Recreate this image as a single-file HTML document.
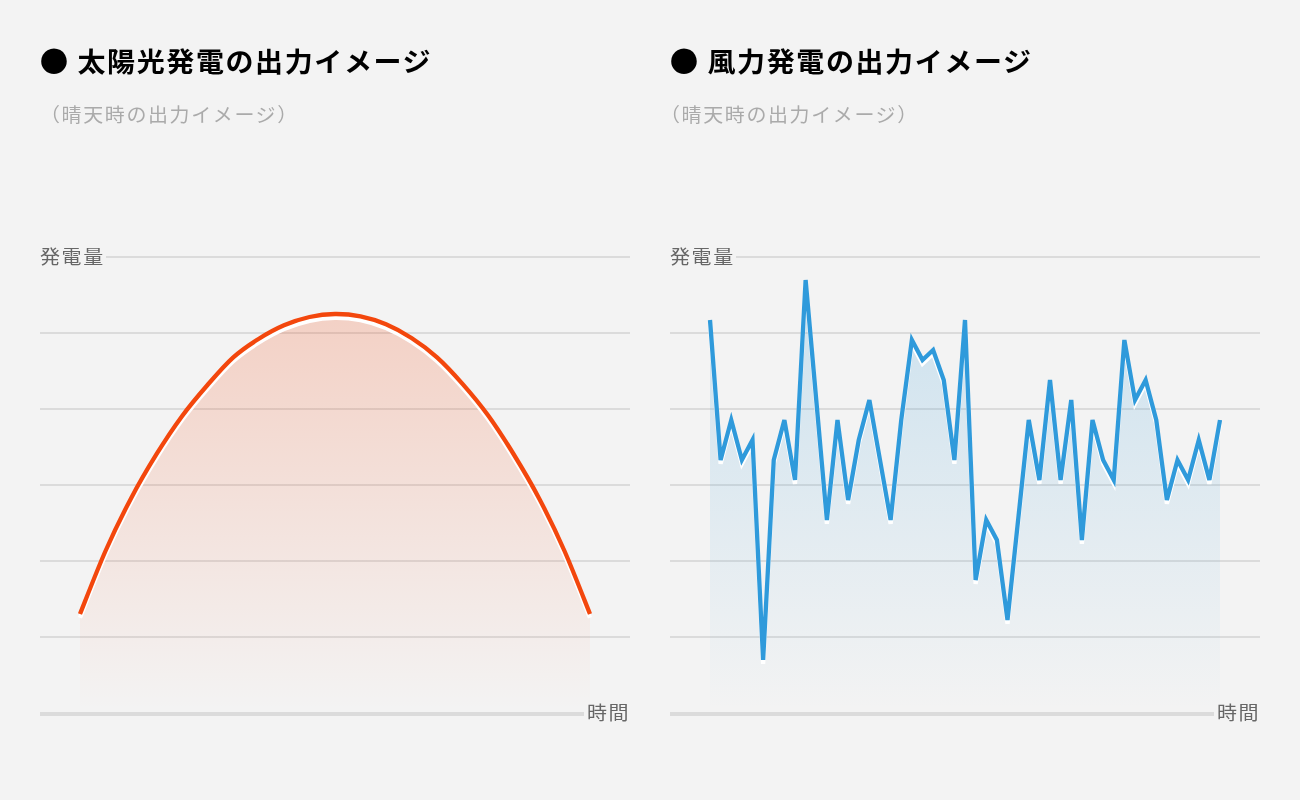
<!DOCTYPE html>
<html lang="ja">
<head>
<meta charset="utf-8">
<title>出力イメージ</title>
<style>
html,body{margin:0;padding:0;}
body{width:1300px;height:800px;background:#f3f3f3;overflow:hidden;position:relative;
font-family:"Liberation Sans","Noto Sans CJK JP",sans-serif;}
.ttl{position:absolute;top:41.9px;margin:0;padding-left:37.5px;font-size:28px;line-height:42px;font-weight:700;color:#000;letter-spacing:1.6px;white-space:nowrap;transform:scaleY(.96);transform-origin:0 76%;}
.dot{position:absolute;left:-3.9px;top:-15px;font-size:59.5px;line-height:59.5px;transform:scaleY(1.0417);letter-spacing:0;font-weight:400;}
.sub{position:absolute;top:99.5px;margin:0;font-size:20px;line-height:30px;color:#aaa;letter-spacing:1.6px;white-space:nowrap;transform:scaleY(.96);transform-origin:0 76%;}
.lab{position:absolute;font-size:20px;line-height:30px;color:#666;letter-spacing:1.6px;white-space:nowrap;transform:scaleY(.955);transform-origin:0 76%;}
svg{position:absolute;left:0;top:0;}
</style>
</head>
<body>
<svg width="1300" height="800" viewBox="0 0 1300 800">
<defs>
<linearGradient id="go" gradientUnits="userSpaceOnUse" x1="0" y1="314" x2="0" y2="710">
<stop offset="0" stop-color="#f3470d" stop-opacity="0.2"/>
<stop offset="1" stop-color="#f3470d" stop-opacity="0"/>
</linearGradient>
<linearGradient id="gb" gradientUnits="userSpaceOnUse" x1="0" y1="280" x2="0" y2="710">
<stop offset="0" stop-color="#2f9adb" stop-opacity="0.2"/>
<stop offset="1" stop-color="#2f9adb" stop-opacity="0"/>
</linearGradient>
</defs>
<rect x="106" y="256" width="524" height="2" fill="#dbdbdb"/>
<rect x="40" y="332" width="590" height="2" fill="#dbdbdb"/>
<rect x="40" y="408" width="590" height="2" fill="#dbdbdb"/>
<rect x="40" y="484" width="590" height="2" fill="#dbdbdb"/>
<rect x="40" y="560" width="590" height="2" fill="#dbdbdb"/>
<rect x="40" y="636" width="590" height="2" fill="#dbdbdb"/>
<rect x="40" y="712" width="544" height="4" fill="#dbdbdb"/>

<rect x="736" y="256" width="524" height="2" fill="#dbdbdb"/>
<rect x="670" y="332" width="590" height="2" fill="#dbdbdb"/>
<rect x="670" y="408" width="590" height="2" fill="#dbdbdb"/>
<rect x="670" y="484" width="590" height="2" fill="#dbdbdb"/>
<rect x="670" y="560" width="590" height="2" fill="#dbdbdb"/>
<rect x="670" y="636" width="590" height="2" fill="#dbdbdb"/>
<rect x="670" y="712" width="544" height="4" fill="#dbdbdb"/>

<path d="M80.00,614.00 C84.25,603.50 97.00,570.27 105.50,551.00 C114.00,531.73 122.50,514.53 131.00,498.40 C139.50,482.27 148.00,467.90 156.50,454.20 C165.00,440.50 173.50,427.73 182.00,416.20 C190.50,404.67 199.00,394.77 207.50,385.00 C216.00,375.23 224.50,365.27 233.00,357.60 C241.50,349.93 250.00,344.38 258.50,339.00 C267.00,333.62 275.50,328.97 284.00,325.30 C292.50,321.63 301.00,318.88 309.50,317.00 C318.00,315.12 326.50,314.10 335.00,314.00 C343.50,313.90 352.00,314.68 360.50,316.40 C369.00,318.12 377.50,320.70 386.00,324.30 C394.50,327.90 403.00,332.50 411.50,338.00 C420.00,343.50 428.50,349.67 437.00,357.30 C445.50,364.93 454.00,374.15 462.50,383.80 C471.00,393.45 479.50,403.50 488.00,415.20 C496.50,426.90 505.00,440.17 513.50,454.00 C522.00,467.83 530.50,482.03 539.00,498.20 C547.50,514.37 556.00,531.70 564.50,551.00 C573.00,570.30 585.75,603.50 590.00,614.00 L590,710 L80,710 Z" fill="url(#go)"/>
<path d="M80.00,614.00 C84.25,603.50 97.00,570.27 105.50,551.00 C114.00,531.73 122.50,514.53 131.00,498.40 C139.50,482.27 148.00,467.90 156.50,454.20 C165.00,440.50 173.50,427.73 182.00,416.20 C190.50,404.67 199.00,394.77 207.50,385.00 C216.00,375.23 224.50,365.27 233.00,357.60 C241.50,349.93 250.00,344.38 258.50,339.00 C267.00,333.62 275.50,328.97 284.00,325.30 C292.50,321.63 301.00,318.88 309.50,317.00 C318.00,315.12 326.50,314.10 335.00,314.00 C343.50,313.90 352.00,314.68 360.50,316.40 C369.00,318.12 377.50,320.70 386.00,324.30 C394.50,327.90 403.00,332.50 411.50,338.00 C420.00,343.50 428.50,349.67 437.00,357.30 C445.50,364.93 454.00,374.15 462.50,383.80 C471.00,393.45 479.50,403.50 488.00,415.20 C496.50,426.90 505.00,440.17 513.50,454.00 C522.00,467.83 530.50,482.03 539.00,498.20 C547.50,514.37 556.00,531.70 564.50,551.00 C573.00,570.30 585.75,603.50 590.00,614.00" fill="none" stroke="#fff" stroke-width="4.3" transform="translate(0,3.8)"/>
<path d="M80.00,614.00 C84.25,603.50 97.00,570.27 105.50,551.00 C114.00,531.73 122.50,514.53 131.00,498.40 C139.50,482.27 148.00,467.90 156.50,454.20 C165.00,440.50 173.50,427.73 182.00,416.20 C190.50,404.67 199.00,394.77 207.50,385.00 C216.00,375.23 224.50,365.27 233.00,357.60 C241.50,349.93 250.00,344.38 258.50,339.00 C267.00,333.62 275.50,328.97 284.00,325.30 C292.50,321.63 301.00,318.88 309.50,317.00 C318.00,315.12 326.50,314.10 335.00,314.00 C343.50,313.90 352.00,314.68 360.50,316.40 C369.00,318.12 377.50,320.70 386.00,324.30 C394.50,327.90 403.00,332.50 411.50,338.00 C420.00,343.50 428.50,349.67 437.00,357.30 C445.50,364.93 454.00,374.15 462.50,383.80 C471.00,393.45 479.50,403.50 488.00,415.20 C496.50,426.90 505.00,440.17 513.50,454.00 C522.00,467.83 530.50,482.03 539.00,498.20 C547.50,514.37 556.00,531.70 564.50,551.00 C573.00,570.30 585.75,603.50 590.00,614.00" fill="none" stroke="#f3470d" stroke-width="4.3"/>
<polygon points="710.00,320.00 720.62,460.00 731.25,420.00 741.88,460.00 752.50,440.00 763.12,660.00 773.75,460.00 784.38,420.00 795.00,480.00 805.62,280.00 816.25,400.00 826.88,520.00 837.50,420.00 848.12,500.00 858.75,440.00 869.38,400.00 880.00,460.00 890.62,520.00 901.25,420.00 911.88,340.00 922.50,360.00 933.12,350.00 943.75,380.00 954.38,460.00 965.00,320.00 975.62,580.00 986.25,520.00 996.88,540.00 1007.50,620.00 1018.12,520.00 1028.75,420.00 1039.38,480.00 1050.00,380.00 1060.62,480.00 1071.25,400.00 1081.88,540.00 1092.50,420.00 1103.12,460.00 1113.75,480.00 1124.38,340.00 1135.00,400.00 1145.62,380.00 1156.25,420.00 1166.88,500.00 1177.50,460.00 1188.12,480.00 1198.75,440.00 1209.38,480.00 1220.00,420.00 1220.00,710 710.00,710" fill="url(#gb)"/>
<polyline points="710.00,320.00 720.62,460.00 731.25,420.00 741.88,460.00 752.50,440.00 763.12,660.00 773.75,460.00 784.38,420.00 795.00,480.00 805.62,280.00 816.25,400.00 826.88,520.00 837.50,420.00 848.12,500.00 858.75,440.00 869.38,400.00 880.00,460.00 890.62,520.00 901.25,420.00 911.88,340.00 922.50,360.00 933.12,350.00 943.75,380.00 954.38,460.00 965.00,320.00 975.62,580.00 986.25,520.00 996.88,540.00 1007.50,620.00 1018.12,520.00 1028.75,420.00 1039.38,480.00 1050.00,380.00 1060.62,480.00 1071.25,400.00 1081.88,540.00 1092.50,420.00 1103.12,460.00 1113.75,480.00 1124.38,340.00 1135.00,400.00 1145.62,380.00 1156.25,420.00 1166.88,500.00 1177.50,460.00 1188.12,480.00 1198.75,440.00 1209.38,480.00 1220.00,420.00" fill="none" stroke="#fff" stroke-width="4.3" transform="translate(0,3.8)"/>
<polyline points="710.00,320.00 720.62,460.00 731.25,420.00 741.88,460.00 752.50,440.00 763.12,660.00 773.75,460.00 784.38,420.00 795.00,480.00 805.62,280.00 816.25,400.00 826.88,520.00 837.50,420.00 848.12,500.00 858.75,440.00 869.38,400.00 880.00,460.00 890.62,520.00 901.25,420.00 911.88,340.00 922.50,360.00 933.12,350.00 943.75,380.00 954.38,460.00 965.00,320.00 975.62,580.00 986.25,520.00 996.88,540.00 1007.50,620.00 1018.12,520.00 1028.75,420.00 1039.38,480.00 1050.00,380.00 1060.62,480.00 1071.25,400.00 1081.88,540.00 1092.50,420.00 1103.12,460.00 1113.75,480.00 1124.38,340.00 1135.00,400.00 1145.62,380.00 1156.25,420.00 1166.88,500.00 1177.50,460.00 1188.12,480.00 1198.75,440.00 1209.38,480.00 1220.00,420.00" fill="none" stroke="#2f9adb" stroke-width="4.3"/>
</svg>
<h2 class="ttl" style="left:40px"><span class="dot">●</span>太陽光発電の出力イメージ</h2>
<p class="sub" style="left:40px">（晴天時の出力イメージ）</p>
<h2 class="ttl" style="left:670px"><span class="dot">●</span>風力発電の出力イメージ</h2>
<p class="sub" style="left:660px">（晴天時の出力イメージ）</p>
<div class="lab" style="left:40px;top:242px">発電量</div>
<div class="lab" style="left:670px;top:242px">発電量</div>
<div class="lab" style="left:587px;top:698px">時間</div>
<div class="lab" style="left:1217px;top:698px">時間</div>
</body>
</html>
